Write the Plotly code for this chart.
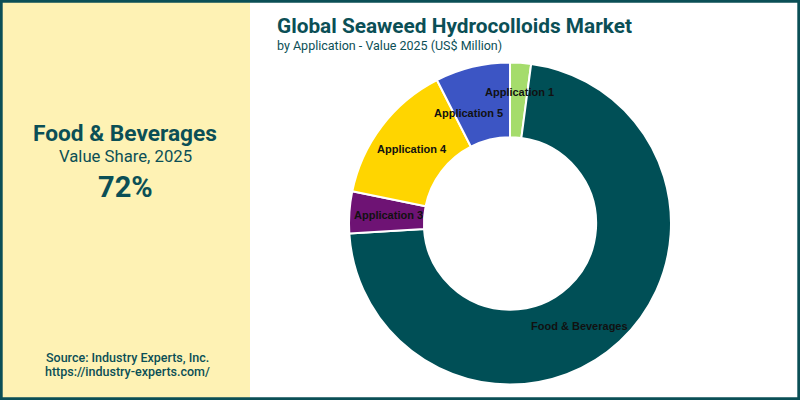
import math
import plotly.graph_objects as go

categories = ["Application 1", "Food & Beverages", "Application 3", "Application 4", "Application 5"]
values = [2.1, 71.9, 4.2, 14.3, 7.5]
colors = ["#A5DC6C", "#004F56", "#6E1374", "#FFD500", "#3C55C4"]

title = "Global Seaweed Hydrocolloids Market"
subtitle = "by Application - Value 2025 (US$ Million)"
highlight_name = "Food & Beverages"
highlight_label = "Value Share, 2025"
highlight_value = "72%"
source_lines = ["Source: Industry Experts, Inc.", "https://industry-experts.com/"]

# label placement tweaks (angle shift in degrees from slice mid-angle, radius as fraction of outer radius)
label_angle_shift = [0.5, 9.0, 0.0, 0.0, -6.9]
label_radius_frac = [0.82, 0.77, 0.758, 0.761, 0.733]

teal = "#0B4F56"
W, H = 800, 400
dom_x = [349 / W, 671 / W]
dom_y = [1 - 385 / H, 1 - 62 / H]
hole = 0.535

fig = go.Figure(go.Pie(
    labels=categories,
    values=values,
    marker=dict(colors=colors, line=dict(color="white", width=2)),
    hole=hole,
    sort=False,
    direction="clockwise",
    rotation=0,
    textinfo="none",
    domain=dict(x=dom_x, y=dom_y),
    showlegend=False,
    hoverinfo="label+value",
))

cx = (dom_x[0] + dom_x[1]) / 2 * W
cy = (1 - (dom_y[0] + dom_y[1]) / 2) * H
R = min((dom_x[1] - dom_x[0]) * W, (dom_y[1] - dom_y[0]) * H) / 2
total = sum(values)
label_anns = []
cum = 0.0
for name, v, da, rf in zip(categories, values, label_angle_shift, label_radius_frac):
    mid = (cum + v / 2) / total * 2 * math.pi + math.radians(da)
    cum += v
    px = cx + R * rf * math.sin(mid)
    py = cy - R * rf * math.cos(mid)
    label_anns.append(dict(
        text=name, xref="paper", yref="paper", x=px / W, y=1 - py / H,
        xanchor="center", yanchor="middle", showarrow=False,
        font=dict(family="Liberation Sans", size=11, color="#111111", weight="bold"),
    ))

fig.update_layout(
    width=W, height=H,
    margin=dict(l=0, r=0, t=0, b=0),
    paper_bgcolor="white",
    plot_bgcolor="white",
    shapes=[
        dict(type="rect", xref="paper", yref="paper", x0=0, x1=250 / W, y0=0, y1=1,
             fillcolor="#FEF2B4", line=dict(width=0), layer="below"),
        dict(type="rect", xref="paper", yref="paper", x0=0.0015, x1=0.9985, y0=0.003, y1=0.997,
             fillcolor="rgba(0,0,0,0)", line=dict(color=teal, width=3)),
    ],
    annotations=label_anns + [
        dict(text=title, xref="paper", yref="paper", x=275 / W, y=1 - 26 / H, xanchor="left", yanchor="middle",
             showarrow=False, font=dict(family="Roboto", size=20.8, color=teal, weight="bold")),
        dict(text=subtitle, xref="paper", yref="paper", x=275 / W, y=1 - 45 / H, xanchor="left", yanchor="middle",
             showarrow=False, font=dict(family="Roboto", size=12.5, color=teal)),
        dict(text=highlight_name, xref="paper", yref="paper", x=125 / W, y=1 - 133 / H, xanchor="center", yanchor="middle",
             showarrow=False, font=dict(family="Roboto", size=22.7, color=teal, weight="bold")),
        dict(text=highlight_label, xref="paper", yref="paper", x=125 / W, y=1 - 156 / H, xanchor="center", yanchor="middle",
             showarrow=False, font=dict(family="Roboto", size=16.7, color=teal)),
        dict(text=highlight_value, xref="paper", yref="paper", x=125 / W, y=1 - 187 / H, xanchor="center", yanchor="middle",
             showarrow=False, font=dict(family="Roboto", size=29, color=teal, weight="bold")),
        dict(text=source_lines[0], xref="paper", yref="paper", x=127 / W, y=1 - 357 / H, xanchor="center", yanchor="middle",
             showarrow=False, font=dict(family="Roboto", size=12.5, color=teal, weight=500)),
        dict(text=source_lines[1], xref="paper", yref="paper", x=127 / W, y=1 - 371 / H, xanchor="center", yanchor="middle",
             showarrow=False, font=dict(family="Roboto", size=12.5, color=teal, weight=500)),
    ],
)

fig.write_html("out.html")
